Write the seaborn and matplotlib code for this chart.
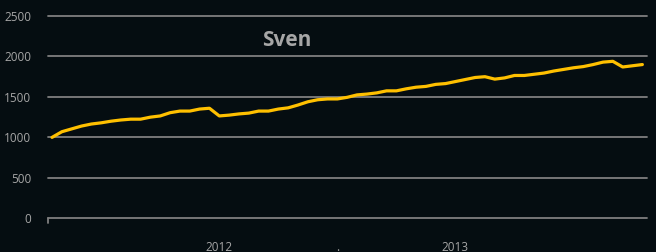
import matplotlib
matplotlib.use("Agg")
import matplotlib.pyplot as plt
import seaborn as sns
import pandas as pd
import numpy as np

title = "Sven"
values = [1000, 1070, 1105, 1140, 1165, 1180, 1200, 1215, 1225, 1225,
          1250, 1265, 1305, 1325, 1325, 1350, 1360, 1265, 1275, 1290,
          1300, 1325, 1325, 1350, 1365, 1400, 1440, 1465, 1475, 1475,
          1495, 1525, 1535, 1550, 1575, 1575, 1600, 1620, 1630, 1655,
          1665, 1690, 1715, 1740, 1750, 1720, 1735, 1765, 1765, 1780,
          1795, 1820, 1840, 1860, 1875, 1900, 1930, 1940, 1870, 1885, 1900]
x_tick_pos = [17, 29, 41]
x_tick_labels = ["2012", ".", "2013"]
y_ticks = [0, 500, 1000, 1500, 2000, 2500]

bg = "#050d11"
grid_c = "#7f7f7f"
text_c = "#a6a6a6"
line_c = "#ffc000"

sns.set_theme(style="dark")
plt.rcParams["font.family"] = ["Open Sans", "DejaVu Sans"]

df = pd.DataFrame({"idx": np.arange(len(values)), "value": values})

fig = plt.figure(figsize=(6.56, 2.52), dpi=100, facecolor=bg)
ax = fig.add_axes([47.7 / 656, 1 - 218.3 / 252, (646.7 - 47.7) / 656, (218.3 - 16) / 252])
ax.set_facecolor(bg)

sns.lineplot(data=df, x="idx", y="value", ax=ax, color=line_c, linewidth=2.3, zorder=3)

ax.set_xlim(-0.44, len(values) - 1 + 0.44)
ax.set_ylim(0, 2500)
ax.set_yticks(y_ticks)
ax.set_yticklabels([str(v) for v in y_ticks])
ax.set_xticks(x_tick_pos)
ax.set_xticklabels(x_tick_labels)
ax.grid(axis="y", color=grid_c, linewidth=1.3, clip_on=False)
ax.grid(axis="x", visible=False)
for s in ax.spines.values():
    s.set_visible(False)
ax.tick_params(axis="y", length=0, pad=12, labelsize=8.5, labelcolor=text_c)
ax.tick_params(axis="x", length=0, pad=16, labelsize=8.5, labelcolor=text_c)
ax.set_xlabel("")
ax.set_ylabel("")
# small tick at the left end of the baseline
ax.plot([-0.44, -0.44], [0, -60], color=grid_c, linewidth=1.3, clip_on=False)

fig.text(287 / 656, 1 - 40 / 252, title, ha="center", va="center",
         fontsize=15, fontweight="bold", color=text_c)

fig.savefig("out.png", dpi=100, facecolor=bg)
